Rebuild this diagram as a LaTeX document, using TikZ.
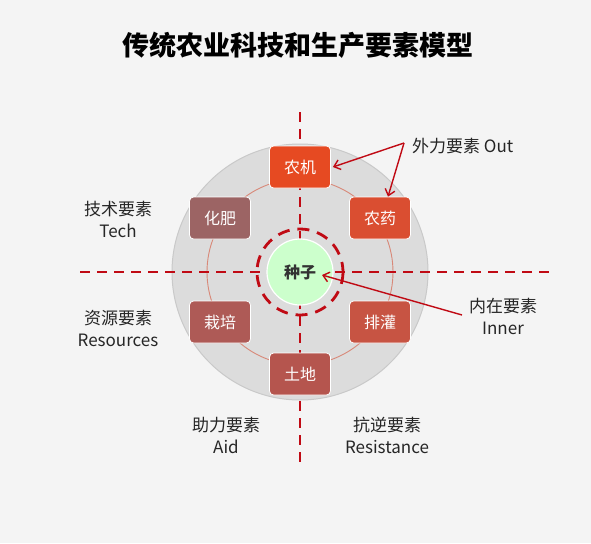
\documentclass[tikz,border=0pt]{standalone}
\usepackage{fontspec}
\setmainfont{Noto Sans CJK SC}
\usetikzlibrary{arrows.meta,calc}
\definecolor{bg}{HTML}{F4F4F4}
\definecolor{disk}{HTML}{DCDCDC}
\definecolor{diskedge}{HTML}{C9C9C9}
\definecolor{ring}{HTML}{D88878}
\definecolor{dred}{HTML}{C00A14}
\definecolor{cJiqi}{HTML}{E64A22}
\definecolor{cYao}{HTML}{DA4E31}
\definecolor{cFei}{HTML}{9C6464}
\definecolor{cZai}{HTML}{AE5A56}
\definecolor{cGuan}{HTML}{C75443}
\definecolor{cDi}{HTML}{B5554E}
\definecolor{seedc}{HTML}{CCFFCC}
\tikzset{
  elem/.style={rectangle, rounded corners=4pt, minimum width=61pt, minimum height=42pt,
    draw=white, line width=0.8pt, text=white, font=\fontsize{16}{18}\selectfont, inner sep=0pt},
  lbl/.style={align=center, text=black!85, font=\fontsize{17}{22}\selectfont, inner sep=0pt},
  dline/.style={draw=dred, line width=2.8pt, dash pattern=on 10pt off 7pt},
  arr/.style={draw=dred, line width=1.4pt, -{Straight Barb[length=6pt,width=10pt,line width=1.4pt]}}
}
\begin{document}
\begin{tikzpicture}[x=1pt,y=-1pt]
\fill[bg] (0,0) rectangle (591,543);
\useasboundingbox (0,0) rectangle (591,543);
% title
\node[font=\fontsize{27}{30}\selectfont\bfseries, inner sep=0pt] (title) at (298,45) {传统农业科技和生产要素模型};
% disk and ring
\coordinate (c) at (300,272);
\filldraw[fill=disk, draw=diskedge, line width=1pt] (c) circle[radius=128];
\draw[ring, line width=0.9pt] (c) circle[radius=93];
% dashed axes
\coordinate (vt) at (300,112);
\coordinate (vb) at (300,463);
\coordinate (hl) at (80,272);
\coordinate (hr) at (549,272);
\draw[dline] (vt) -- (vb);
\draw[dline] (hl) -- (hr);
\draw[dline, dash pattern=on 12pt off 8pt] (c) circle[radius=43];
% element nodes
\node[elem, fill=cJiqi] (jiqi) at (300,167) {农机};
\node[elem, fill=cFei]  (fei)  at (220,218) {化肥};
\node[elem, fill=cYao]  (yao)  at (380,218) {农药};
\node[elem, fill=cZai]  (zai)  at (220,322) {栽培};
\node[elem, fill=cGuan] (guan) at (380,322) {排灌};
\node[elem, fill=cDi]   (di)   at (300,374) {土地};
% seed
\node[circle, minimum size=66pt, fill=seedc, draw=white, line width=1.2pt, inner sep=0pt,
      font=\fontsize{16}{18}\selectfont\bfseries, text=black!80] (seed) at (c) {种子};
% labels
\node[lbl] (tech) at (118,219) {技术要素\\Tech};
\node[lbl] (res)  at (118,328) {资源要素\\Resources};
\node[lbl] (aid)  at (226,435) {助力要素\\Aid};
\node[lbl] (resi) at (387,435) {抗逆要素\\Resistance};
\node[lbl, anchor=west] (out) at (412,146) {外力要素 Out};
\node[lbl] (inner) at (503,316) {内在要素\\Inner};
% arrows
\coordinate (osrc) at (404,143);
\draw[arr] (osrc) -- ([xshift=2pt]jiqi.east);
\draw[arr] (osrc) -- ([xshift=8pt]yao.north);
\coordinate (isrc) at (462,315);
\draw[arr] (isrc) -- ($(seed.center)+(22,3)$);
\end{tikzpicture}
\end{document}
